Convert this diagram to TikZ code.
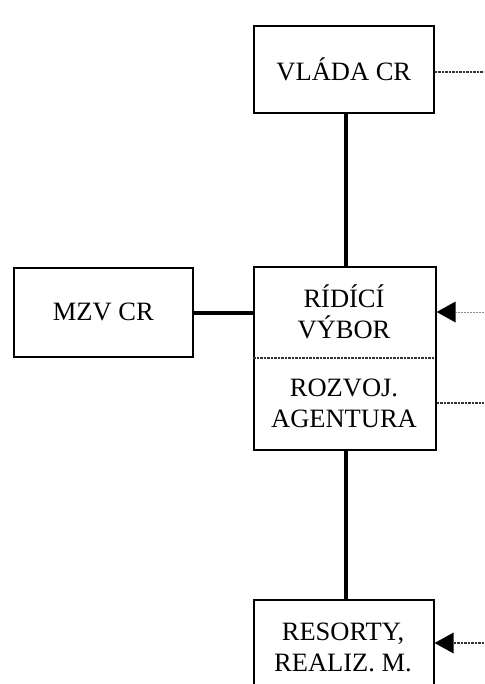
\documentclass[tikz,border=0pt]{standalone}
\usepackage{fontspec}
\setmainfont{Liberation Serif}
\usetikzlibrary{arrows.meta}
\begin{document}
\begin{tikzpicture}[x=1pt,y=-1pt,
  box/.style={draw,line width=1.6pt,rectangle,inner sep=0pt,anchor=north west},
  lbl/.style={align=center,font=\fontsize{26.5}{31}\selectfont,inner sep=0pt},
  thickline/.style={line width=4.8pt},
  dotline/.style={line width=2pt,black!80,dash pattern=on 2.5pt off 1pt},
  faintline/.style={line width=0.9pt,black!45,dash pattern=on 2pt off 1pt},
  tip/.style={-{Triangle[length=19pt,width=21pt,color=black,fill=black,line width=0pt]}}]
\useasboundingbox (0,0) rectangle (484,684);
\clip (0,0) rectangle (484,684);
\node[box,minimum width=180pt,minimum height=87pt] (vlada) at (253,25) {};
\node[lbl] (tvlada) at (vlada.center) {VLÁDA CR};
\node[box,minimum width=179pt,minimum height=89pt] (mzv) at (13,267) {};
\node[lbl] (tmzv) at (mzv.center) {MZV CR};
\node[box,minimum width=182pt,minimum height=183pt] (mid) at (253,266) {};
\coordinate (divl) at (253,358);
\coordinate (divr) at (435,358);
\node[lbl] (tridici) at (344,312) {RÍDÍCÍ\\VÝBOR};
\node[lbl] (trozvoj) at (344,403.5) {ROZVOJ.\\AGENTURA};
\node[box,minimum width=180pt,minimum height=96pt] (res) at (253,599) {};
\node[lbl] (tres) at (343,647) {RESORTY,\\REALIZ. M.};
\coordinate (e1) at (484,72);
\coordinate (e2) at (484,312);
\coordinate (e3) at (484,403);
\coordinate (e4) at (484,643);
% connectors
\draw[thickline] (vlada.south -| 346,0) -- (mid.north -| 346,0);
\draw[thickline] (mid.south -| 346,0) -- (res.north -| 346,0);
\draw[thickline] (mzv.east |- 0,313) -- (mid.west |- 0,313);
\draw[dotline] (divl) -- (divr);
\draw[dotline] (vlada.east |- e1) -- (e1);
\draw[dotline] (mid.east |- e3) -- (e3);
\draw[faintline,tip] (e2) -- (mid.east |- e2);
\draw[dotline,tip] (e4) -- (res.east |- e4);
\end{tikzpicture}
\end{document}
